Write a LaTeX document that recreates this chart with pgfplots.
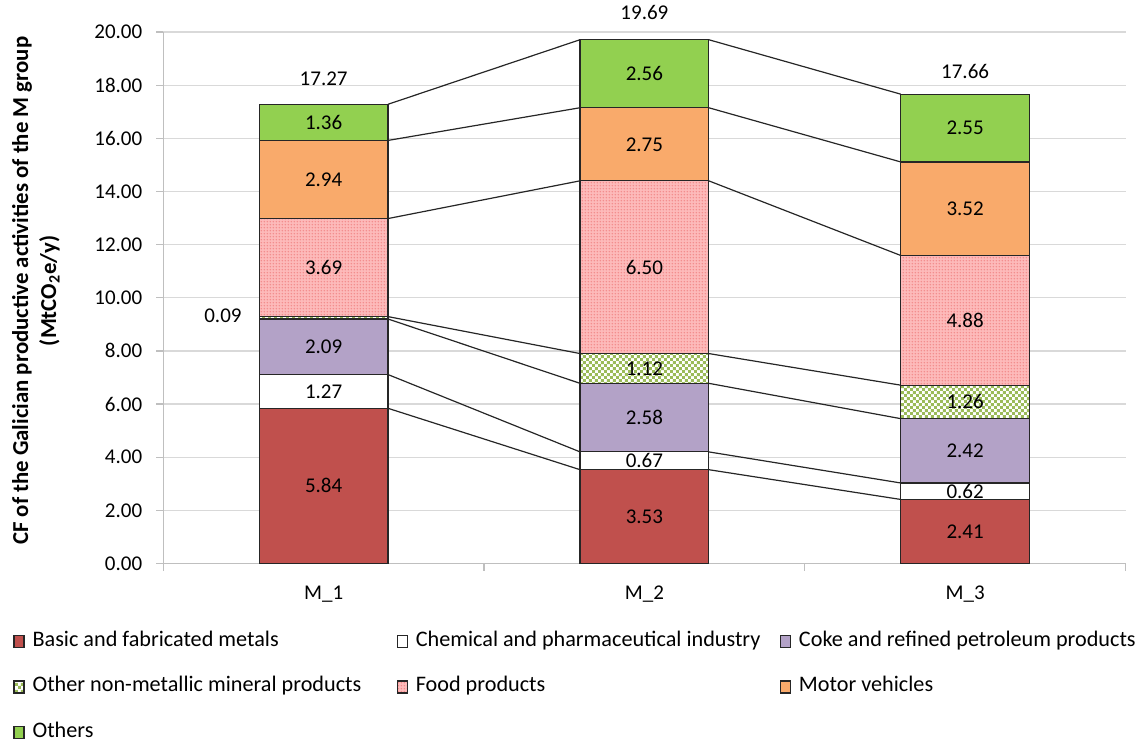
\documentclass[border=0pt]{standalone}
\usepackage{pgfplots}
\pgfplotsset{compat=1.18}
\usepackage{fontspec}
\setmainfont{Carlito}
\usetikzlibrary{patterns.meta}
\definecolor{axisgray}{HTML}{BFBFBF}
\definecolor{gridgray}{HTML}{D9D9D9}
\definecolor{cbasic}{HTML}{C0504D}
\definecolor{ccoke}{HTML}{B3A2C7}
\definecolor{ccheck}{HTML}{9BBB59}
\definecolor{cfoodbg}{HTML}{FDBABA}
\definecolor{cfoodfg}{HTML}{F28A8A}
\definecolor{cmotor}{HTML}{F9AA6B}
\definecolor{cothers}{HTML}{92D050}
\definecolor{barline}{HTML}{262626}
\tikzdeclarepattern{
  name=smallcheck,
  bottom left={(0pt,0pt)}, top right={(3.2pt,3.2pt)},
  tile size={(3.2pt,3.2pt)},
  code={\fill (0pt,0pt) rectangle (1.6pt,1.6pt); \fill (1.6pt,1.6pt) rectangle (3.2pt,3.2pt);}
}
\tikzdeclarepattern{
  name=finedots,
  bottom left={(0pt,0pt)}, top right={(1.4pt,1.4pt)},
  tile size={(1.4pt,1.4pt)},
  code={\fill (0.7pt,0.7pt) circle (0.42pt);}
}
\begin{document}
\begin{tikzpicture}[font=\fontsize{10.5}{12.6}\selectfont]
\useasboundingbox (-81.65pt,-88.25pt) rectangle (491.35pt,281.75pt);
\begin{axis}[
  at={(0pt,0pt)}, anchor=south west,
  scale only axis, width=481.1pt, height=265.75pt,
  xmin=0.5, xmax=3.5, ymin=0, ymax=20,
  ybar stacked, bar width=64.35pt,
  axis lines=left,
  axis line style={-, draw=axisgray, line width=0.7pt},
  ymajorgrids, grid style={draw=gridgray, line width=0.6pt},
  tick align=outside,
  major tick length=3.5pt, minor tick length=3.5pt,
  ytick={0,2,...,20},
  yticklabel={\pgfmathprintnumber[fixed,fixed zerofill,precision=2,assume math mode=true]{\tick}},
  yticklabel style={xshift=-3.5pt},
  ytick style={draw=axisgray, line width=0.6pt},
  xtick={1,2,3},
  xticklabels={M\_1,M\_2,M\_3},
  minor xtick={0.5,1.5,2.5,3.5},
  major x tick style={draw=none},
  minor x tick style={draw=axisgray, line width=0.6pt},
  xticklabel style={yshift=-4pt},
  ylabel={CF of the Galician productive activities of the M group\\(MtCO\textsubscript{2}e/y)},
  ylabel style={at={(axis description cs:-0.1323,0.513)}, anchor=center, align=center, font=\bfseries\fontsize{11.4}{14}\selectfont},
  legend columns=3,
  legend style={at={(0,0)}, xshift=-75.15pt, yshift=-32.4pt, anchor=north west, draw=none, inner sep=0pt,
    font=\fontsize{11.1}{13}\selectfont,
    nodes={inner sep=1pt, text height=7.8pt, text depth=2pt, anchor=base west},
    row sep=11pt,
    /tikz/every odd column/.append style={column sep=3pt},
    /tikz/every even column/.append style={column sep=3pt}},
  legend image code/.code={\draw[#1] (0pt,-0.5pt) rectangle (5pt,5.5pt);},
  legend cell align=left,
]
\addplot[fill=cbasic, draw=barline, line width=0.6pt] coordinates {(1,5.84) (2,3.53) (3,2.41)};
\addlegendentry{\makebox[178pt][l]{Basic and fabricated metals}}
\addplot[fill=white, draw=barline, line width=0.6pt] coordinates {(1,1.27) (2,0.67) (3,0.62)};
\addlegendentry{\makebox[178pt][l]{Chemical and pharmaceutical industry}}
\addplot[fill=ccoke, draw=barline, line width=0.6pt] coordinates {(1,2.09) (2,2.58) (3,2.42)};
\addlegendentry{\makebox[178pt][l]{Coke and refined petroleum products}}
\addplot[fill=white, postaction={pattern=smallcheck, pattern color=ccheck}, draw=barline, line width=0.6pt] coordinates {(1,0.09) (2,1.12) (3,1.26)};
\addlegendentry{\makebox[178pt][l]{Other non-metallic mineral products}}
\addplot[fill=cfoodbg, postaction={pattern=finedots, pattern color=cfoodfg}, draw=barline, line width=0.6pt] coordinates {(1,3.69) (2,6.50) (3,4.88)};
\addlegendentry{\makebox[178pt][l]{Food products}}
\addplot[fill=cmotor, draw=barline, line width=0.6pt] coordinates {(1,2.94) (2,2.75) (3,3.52)};
\addlegendentry{\makebox[178pt][l]{Motor vehicles}}
\addplot[fill=cothers, draw=barline, line width=0.6pt] coordinates {(1,1.36) (2,2.56) (3,2.55)};
\addlegendentry{\makebox[178pt][l]{Others}}
\end{axis}
\begin{axis}[
  at={(0pt,0pt)}, anchor=south west,
  scale only axis, width=481.1pt, height=265.75pt,
  xmin=0.5, xmax=3.5, ymin=0, ymax=20,
  hide axis, clip=false,
  unbounded coords=jump,
]
\addplot[draw=barline, line width=0.6pt] coordinates {
(1.2006,5.84) (1.7994,3.53) (2,nan) (2.2006,3.53) (2.7994,2.41) (3,nan)
(1.2006,7.11) (1.7994,4.20) (2,nan) (2.2006,4.20) (2.7994,3.03) (3,nan)
(1.2006,9.20) (1.7994,6.78) (2,nan) (2.2006,6.78) (2.7994,5.45) (3,nan)
(1.2006,9.29) (1.7994,7.90) (2,nan) (2.2006,7.90) (2.7994,6.71) (3,nan)
(1.2006,12.98) (1.7994,14.40) (2,nan) (2.2006,14.40) (2.7994,11.59) (3,nan)
(1.2006,15.92) (1.7994,17.15) (2,nan) (2.2006,17.15) (2.7994,15.11) (3,nan)
(1.2006,17.28) (1.7994,19.71) (2,nan) (2.2006,19.71) (2.7994,17.66)
};
\addplot[draw=none, nodes near coords, point meta=explicit symbolic,
  every node near coord/.style={anchor=center, inner sep=0pt, text=black}] coordinates {
(1,2.92)[5.84] (1,6.475)[1.27] (1,8.155)[2.09] (0.686,9.31)[0.09] (1,11.135)[3.69] (1,14.45)[2.94] (1,16.60)[1.36] (1,18.23)[17.27]
(2,1.765)[3.53] (2,3.865)[0.67] (2,5.49)[2.58] (2,7.34)[1.12] (2,11.15)[6.50] (2,15.775)[2.75] (2,18.43)[2.56] (2,20.75)[19.69]
(3,1.205)[2.41] (3,2.72)[0.62] (3,4.24)[2.42] (3,6.08)[1.26] (3,9.15)[4.88] (3,13.35)[3.52] (3,16.385)[2.55] (3,18.53)[17.66]
};
\end{axis}
\end{tikzpicture}
\end{document}
